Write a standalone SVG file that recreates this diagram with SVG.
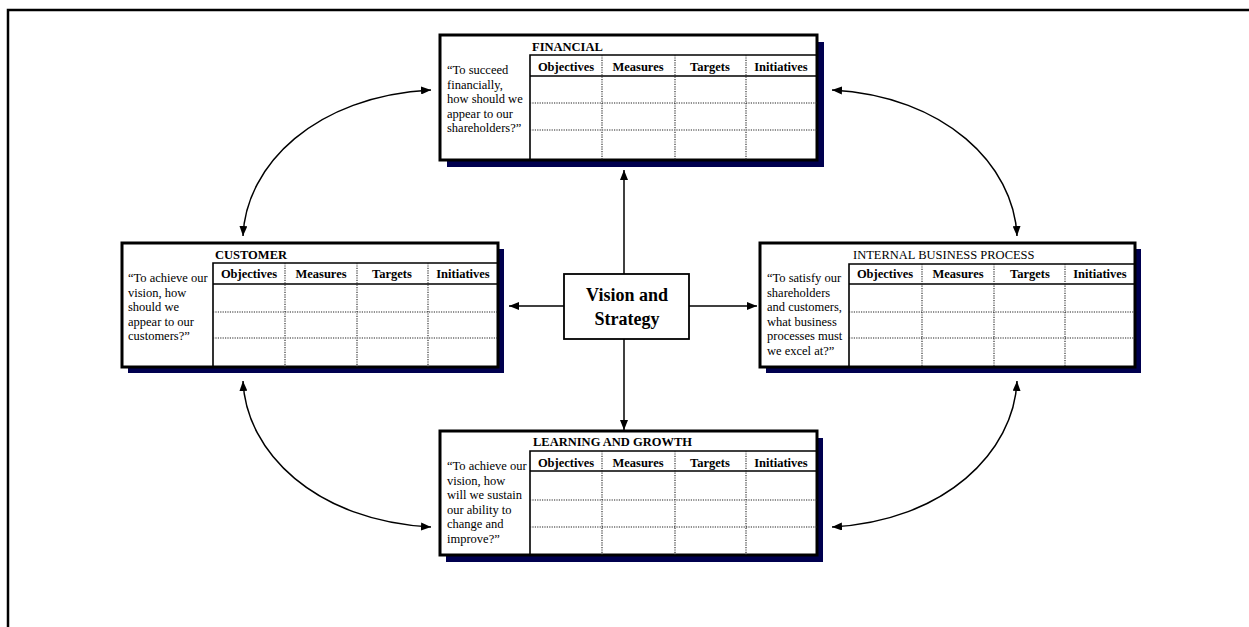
<svg xmlns="http://www.w3.org/2000/svg" width="1249" height="627" viewBox="0 0 1249 627">
  <style>
    .frame { fill: none; stroke: #000; stroke-width: 2.5; }
    .shadow { fill: #00004f; }
    .box { fill: #fff; stroke: #000; stroke-width: 3; }
    .rule { stroke: #000; stroke-width: 1.6; fill: none; }
    .dots { stroke: #222; stroke-width: 1.1; stroke-dasharray: 1.2 1.2; fill: none; }
    .title { font-family: "Liberation Serif", "Times New Roman", serif; font-size: 12.5px; font-weight: bold; fill: #000; }
    .title-plain { font-family: "Liberation Serif", "Times New Roman", serif; font-size: 12.5px; fill: #000; }
    .col { font-family: "Liberation Serif", "Times New Roman", serif; font-size: 12.5px; font-weight: bold; fill: #000; text-anchor: middle; }
    .ask { font-family: "Liberation Serif", "Times New Roman", serif; font-size: 12.5px; fill: #000; }
    .vision { font-family: "Liberation Serif", "Times New Roman", serif; font-size: 18px; font-weight: bold; fill: #000; text-anchor: middle; }
    .link { fill: none; stroke: #000; stroke-width: 1.5; }
    .arrow { marker-end: url(#head); }
    .both { marker-start: url(#head); marker-end: url(#head); }
  </style>
  <defs>
    <marker id="head" viewBox="0 0 10 8" refX="10" refY="4" markerWidth="10" markerHeight="8" markerUnits="userSpaceOnUse" orient="auto-start-reverse">
      <path d="M0,0 L10,4 L0,8 z" fill="#000"/>
    </marker>
  </defs>

  <rect width="1249" height="627" fill="#fff"/>

  <!-- page frame: top and left edges only -->
  <path class="frame" d="M8,627 L8,10 L1249,10"/>

  <!-- connectors -->
  <g id="connectors">
    <path class="link arrow" d="M624,274 L624,170"/>
    <path class="link arrow" d="M624,339 L624,430"/>
    <path class="link arrow" d="M564,306 L509,306"/>
    <path class="link arrow" d="M689,306 L757,306"/>
    <path class="link both" d="M243,236 C246,165 315,96 431,90"/>
    <path class="link both" d="M1017,236 C1014,165 945,96 832,90"/>
    <path class="link both" d="M243,381 C246,452 315,521 431,527"/>
    <path class="link both" d="M1017,381 C1014,452 945,521 832,527"/>
  </g>

  <!-- financial perspective -->
  <g id="financial">
    <rect class="shadow" x="447" y="42" width="377" height="125"/>
    <rect class="box" x="440" y="35" width="377" height="125"/>
    <path class="rule" d="M530,160 L530,55 L817,55 M530,76 L817,76"/>
    <path class="dots" d="M530,103 L817,103 M530,130 L817,130 M602,55 L602,160 M675,55 L675,160 M746,55 L746,160"/>
    <text class="title" x="532" y="51">FINANCIAL</text>
    <text class="col" x="566" y="71">Objectives</text>
    <text class="col" x="638" y="71">Measures</text>
    <text class="col" x="710" y="71">Targets</text>
    <text class="col" x="781" y="71">Initiatives</text>
    <text class="ask" x="447" y="74">“To succeed</text>
    <text class="ask" x="447" y="88.5">financially,</text>
    <text class="ask" x="447" y="103">how should we</text>
    <text class="ask" x="447" y="117.5">appear to our</text>
    <text class="ask" x="447" y="132">shareholders?”</text>
  </g>

  <!-- customer perspective -->
  <g id="customer">
    <rect class="shadow" x="128" y="249" width="376" height="124"/>
    <rect class="box" x="122" y="243" width="376" height="124"/>
    <path class="rule" d="M213,367 L213,263 L498,263 M213,284 L498,284"/>
    <path class="dots" d="M213,312 L498,312 M213,338 L498,338 M285,263 L285,367 M357,263 L357,367 M428,263 L428,367"/>
    <text class="title" x="215" y="259">CUSTOMER</text>
    <text class="col" x="249" y="278">Objectives</text>
    <text class="col" x="321" y="278">Measures</text>
    <text class="col" x="392" y="278">Targets</text>
    <text class="col" x="463" y="278">Initiatives</text>
    <text class="ask" x="128" y="282">“To achieve our</text>
    <text class="ask" x="128" y="296.5">vision, how</text>
    <text class="ask" x="128" y="311">should we</text>
    <text class="ask" x="128" y="325.5">appear to our</text>
    <text class="ask" x="128" y="340">customers?”</text>
  </g>

  <!-- internal business process perspective -->
  <g id="internal">
    <rect class="shadow" x="766" y="249" width="375" height="124"/>
    <rect class="box" x="760" y="243" width="375" height="124"/>
    <path class="rule" d="M849,367 L849,264 L1135,264 M849,284 L1135,284"/>
    <path class="dots" d="M849,312 L1135,312 M849,338 L1135,338 M922,264 L922,367 M994,264 L994,367 M1065,264 L1065,367"/>
    <text class="title-plain" x="853" y="259">INTERNAL BUSINESS PROCESS</text>
    <text class="col" x="885" y="278">Objectives</text>
    <text class="col" x="958" y="278">Measures</text>
    <text class="col" x="1030" y="278">Targets</text>
    <text class="col" x="1100" y="278">Initiatives</text>
    <text class="ask" x="767" y="282">“To satisfy our</text>
    <text class="ask" x="767" y="296.5">shareholders</text>
    <text class="ask" x="767" y="311">and customers,</text>
    <text class="ask" x="767" y="325.5">what business</text>
    <text class="ask" x="767" y="340">processes must</text>
    <text class="ask" x="767" y="354.5">we excel at?”</text>
  </g>

  <!-- learning and growth perspective -->
  <g id="learning">
    <rect class="shadow" x="446" y="438" width="377" height="124"/>
    <rect class="box" x="440" y="431" width="377" height="124"/>
    <path class="rule" d="M530,555 L530,451 L817,451 M530,471 L817,471"/>
    <path class="dots" d="M530,500 L817,500 M530,527 L817,527 M602,451 L602,555 M675,451 L675,555 M746,451 L746,555"/>
    <text class="title" x="533" y="446">LEARNING AND GROWTH</text>
    <text class="col" x="566" y="467">Objectives</text>
    <text class="col" x="638" y="467">Measures</text>
    <text class="col" x="710" y="467">Targets</text>
    <text class="col" x="781" y="467">Initiatives</text>
    <text class="ask" x="447" y="470">“To achieve our</text>
    <text class="ask" x="447" y="484.5">vision, how</text>
    <text class="ask" x="447" y="499">will we sustain</text>
    <text class="ask" x="447" y="513.5">our ability to</text>
    <text class="ask" x="447" y="528">change and</text>
    <text class="ask" x="447" y="542.5">improve?”</text>
  </g>

  <!-- centre: vision and strategy -->
  <g id="vision">
    <rect x="564" y="274" width="125" height="65" fill="#fff" stroke="#000" stroke-width="1.8"/>
    <text class="vision" x="627" y="301">Vision and</text>
    <text class="vision" x="627" y="325">Strategy</text>
  </g>
</svg>
